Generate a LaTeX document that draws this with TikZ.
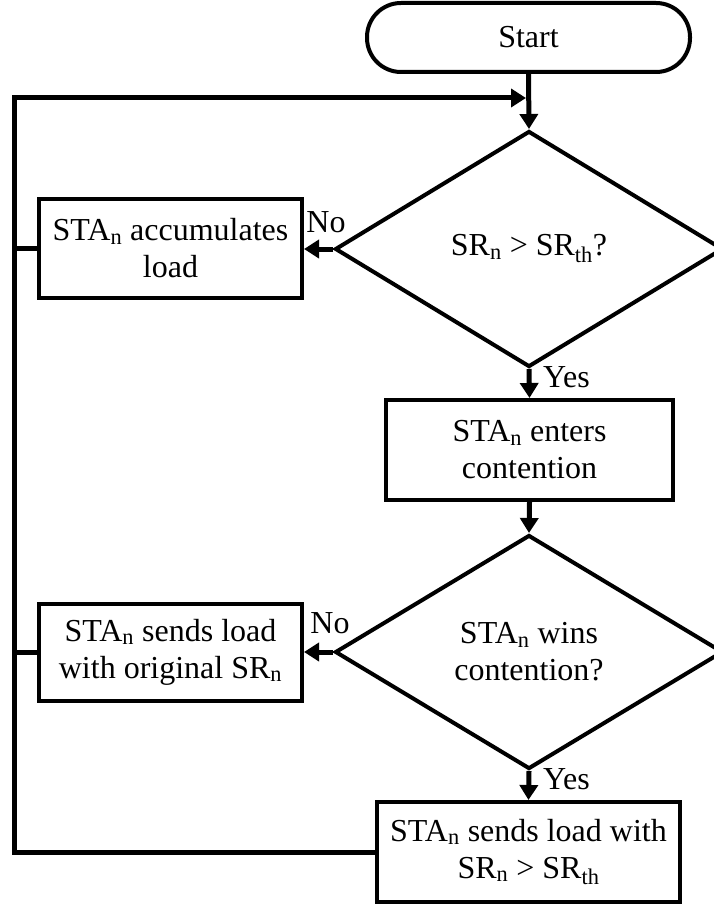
\documentclass[tikz,border=0pt]{standalone}
\usepackage{fontspec}
\setmainfont{Liberation Serif}
\usetikzlibrary{arrows.meta,shapes.geometric}

\newcommand{\subn}{\textsubscript{n}}
\newcommand{\subth}{\textsubscript{th}}

\tikzset{
  base/.style={draw=black, line width=4pt, inner sep=0pt, align=center,
               font=\fontsize{32}{37}\selectfont},
  terminal/.style={base, rectangle, rounded corners=34pt,
                   minimum width=323pt, minimum height=69pt},
  procbox/.style={base, rectangle, minimum height=100pt},
  decision/.style={base, diamond, minimum width=388pt, minimum height=236pt},
  flow/.style={line width=5pt, -{Triangle[length=15pt,width=18pt]}},
  link/.style={line width=5pt, line cap=rect},
  tag/.style={font=\fontsize{32}{37}\selectfont, inner sep=0pt}
}

\begin{document}
\begin{tikzpicture}[x=1pt, y=-1pt]
  \useasboundingbox (0,0) rectangle (714,904);
  \clip (0,0) rectangle (714,904);

  % nodes
  \node[terminal] (start) at (528.5,37.5) {Start};
  \node[decision] (d1) at (529,249) {SR\subn{} > SR\subth?};
  \node[procbox, minimum width=263pt, minimum height=99pt] (b1) at (170.5,248)
        {STA\subn{} accumulates\\load};
  \node[procbox, minimum width=287pt] (b2) at (529.5,450)
        {STA\subn{} enters\\contention};
  \node[decision, minimum height=234pt] (d2) at (529,652)
        {STA\subn{} wins\\contention?};
  \node[procbox, minimum width=263pt, minimum height=97pt] (b3) at (170.5,652)
        {STA\subn{} sends load\\with original SR\subn};
  \node[procbox, minimum width=303pt] (b4) at (528.5,852)
        {STA\subn{} sends load with\\SR\subn{} > SR\subth};

  % return rail on the left
  \coordinate (railtop) at (14,98);
  \coordinate (railbot) at (14,852);
  \coordinate (merge) at (526,98);

  % main flow
  \draw[flow] (start.south) -- (d1.north);
  \draw[flow] (d1.west) -- (d1.west -| b1.east);
  \draw[flow] (d1.south) -- (b2.north);
  \draw[flow] (b2.south) -- (d2.north);
  \draw[flow] (d2.west) -- (d2.west -| b3.east);
  \draw[flow] (d2.south) -- (b4.north);

  % feedback loop
  \draw[link] (b4.west) -- (railbot) -- (railtop) -- ++(5,0);
  \draw[flow] (railtop) -- (merge);
  \draw[link] (b1.west) -- (b1.west -| railtop);
  \draw[link] (b3.west) -- (b3.west -| railtop);

  % branch labels
  \node[tag] (no1) at (326,222) {No};
  \node[tag] (no2) at (330,623) {No};
  \node[tag, anchor=west] (yes1) at (543,377) {Yes};
  \node[tag, anchor=west] (yes2) at (543,779) {Yes};
\end{tikzpicture}
\end{document}
